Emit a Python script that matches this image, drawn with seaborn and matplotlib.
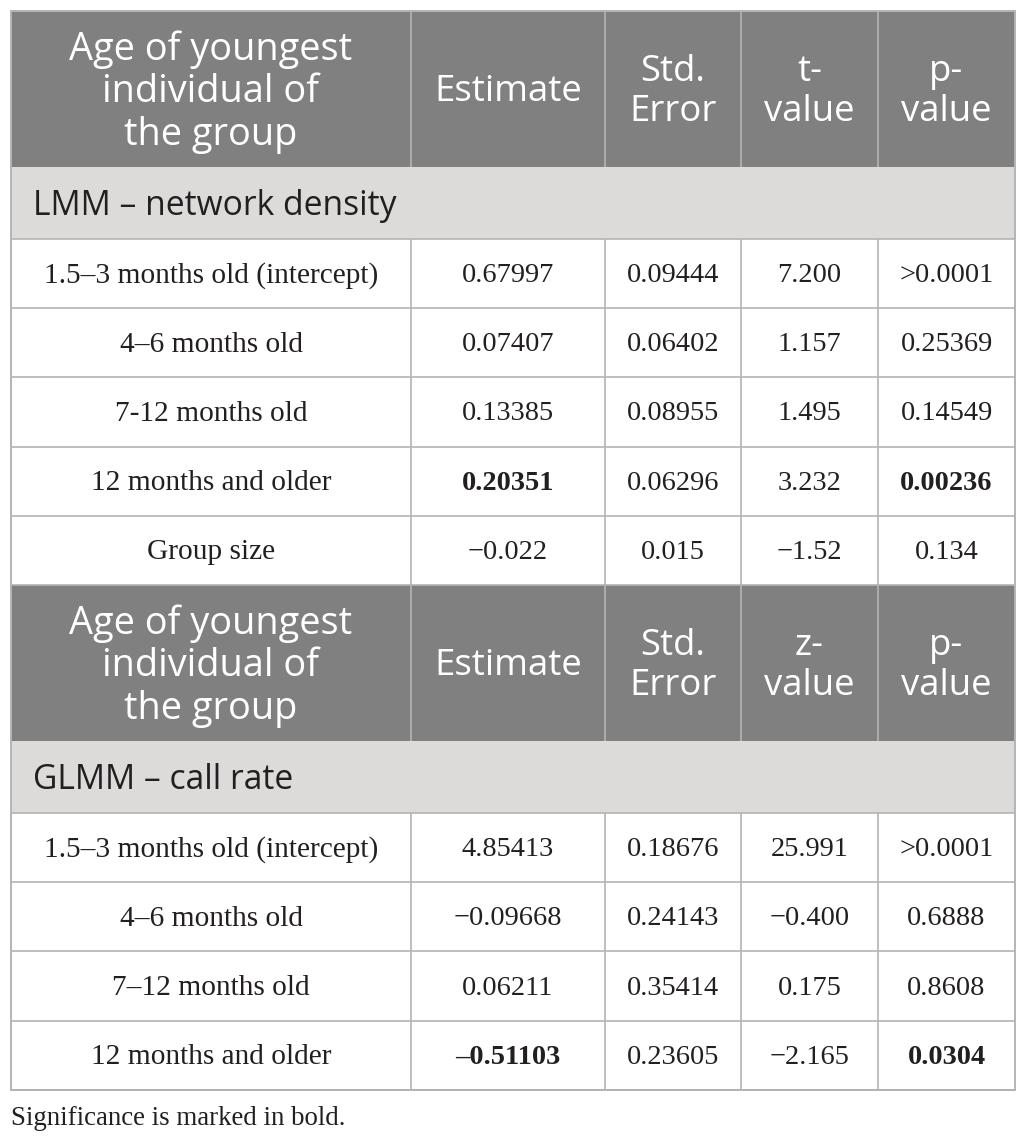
import matplotlib
matplotlib.use("Agg")
import matplotlib.pyplot as plt
from matplotlib.patches import Rectangle
import seaborn as sns

sns.set_theme(style="white")

# ---------------- data ----------------
header_cols = ["Age of youngest\nindividual of\nthe group", "Estimate", "Std.\nError", "t-\nvalue", "p-\nvalue"]
header_cols2 = ["Age of youngest\nindividual of\nthe group", "Estimate", "Std.\nError", "z-\nvalue", "p-\nvalue"]
section1 = "LMM \u2013 network density"
section2 = "GLMM \u2013 call rate"

lmm_terms = ["1.5\u20133 months old (intercept)", "4\u20136 months old", "7-12 months old",
             "12 months and older", "Group size"]
lmm_estimate = ["0.67997", "0.07407", "0.13385", "0.20351", "\u22120.022"]
lmm_se = ["0.09444", "0.06402", "0.08955", "0.06296", "0.015"]
lmm_t = ["7.200", "1.157", "1.495", "3.232", "\u22121.52"]
lmm_p = [">0.0001", "0.25369", "0.14549", "0.00236", "0.134"]
lmm_bold_est = [False, False, False, True, False]
lmm_bold_p = [False, False, False, True, False]

glmm_terms = ["1.5\u20133 months old (intercept)", "4\u20136 months old", "7\u201312 months old",
              "12 months and older"]
glmm_estimate = ["4.85413", "\u22120.09668", "0.06211", "\u20130.51103"]
glmm_se = ["0.18676", "0.24143", "0.35414", "0.23605"]
glmm_z = ["25.991", "\u22120.400", "0.175", "\u22122.165"]
glmm_p = [">0.0001", "0.6888", "0.8608", "0.0304"]
glmm_bold_est = [False, False, False, True]
glmm_bold_p = [False, False, False, True]

footnote = "Significance is marked in bold."

# ---------------- layout ----------------
W, H = 1026, 1143
col_edges = [11, 411, 605, 741, 878, 1015]
header_h = 156
section_h = 72
row_h = 69.2
top = 11

dark = "#808080"
light = "#dcdbda"
line_c = "#b4b4b4"

fig = plt.figure(figsize=(W / 100, H / 100), dpi=100)
ax = fig.add_axes([0, 0, 1, 1])
ax.set_xlim(0, W)
ax.set_ylim(H, 0)
ax.axis("off")

sans = ["Open Sans", "DejaVu Sans"]
serif = ["Liberation Serif", "DejaVu Serif"]


def hline(y, x0=col_edges[0], x1=col_edges[-1]):
    ax.plot([x0, x1], [y, y], color=line_c, lw=1.2, solid_capstyle="butt")


def vline(x, y0, y1):
    ax.plot([x, x], [y0, y1], color=line_c, lw=1.2, solid_capstyle="butt")


def draw_header(y, labels):
    ax.add_patch(Rectangle((col_edges[0], y), col_edges[-1] - col_edges[0], header_h,
                           facecolor=dark, edgecolor="none"))
    for i, lab in enumerate(labels):
        cx = (col_edges[i] + col_edges[i + 1]) / 2
        ax.text(cx, y + header_h / 2 + 3, lab, ha="center", va="center", color="white",
                fontsize=27.3 if i == 0 else 26.3, family=sans, linespacing=1.16)
        if i > 0:
            vline(col_edges[i], y, y + header_h)
    return y + header_h


def draw_section(y, label):
    ax.add_patch(Rectangle((col_edges[0], y), col_edges[-1] - col_edges[0], section_h,
                           facecolor=light, edgecolor="none"))
    ax.text(col_edges[0] + 22, y + section_h / 2 + 3, label, ha="left", va="center",
            color="#231f20", fontsize=24.2, family=sans)
    hline(y + section_h)
    return y + section_h


def draw_rows(y, terms, est, se, stat, p, bold_est, bold_p):
    for r in range(len(terms)):
        vals = [terms[r], est[r], se[r], stat[r], p[r]]
        bolds = [False, bold_est[r], False, False, bold_p[r]]
        cy = y + row_h / 2 + 2
        for i, v in enumerate(vals):
            cx = (col_edges[i] + col_edges[i + 1]) / 2
            ax.text(cx, cy, v, ha="center", va="center", color="#231f20",
                    fontsize=21.2 if i == 0 else 20.4,
                    family=serif, fontweight="bold" if bolds[i] else "normal")
        for i in range(1, 5):
            vline(col_edges[i], y, y + row_h)
        y += row_h
        hline(y)
    return y


y = top
y0 = y
y = draw_header(y, header_cols)
y = draw_section(y, section1)
y = draw_rows(y, lmm_terms, lmm_estimate, lmm_se, lmm_t, lmm_p, lmm_bold_est, lmm_bold_p)
y = draw_header(y, header_cols2)
y = draw_section(y, section2)
y = draw_rows(y, glmm_terms, glmm_estimate, glmm_se, glmm_z, glmm_p, glmm_bold_est, glmm_bold_p)

# outer border
ax.add_patch(Rectangle((col_edges[0], y0), col_edges[-1] - col_edges[0], y - y0,
                       facecolor="none", edgecolor=line_c, lw=1.4))

ax.text(col_edges[0], y + 29, footnote, ha="left", va="center", color="#231f20",
        fontsize=19.4, family=serif)

fig.savefig("out.png", dpi=100)
